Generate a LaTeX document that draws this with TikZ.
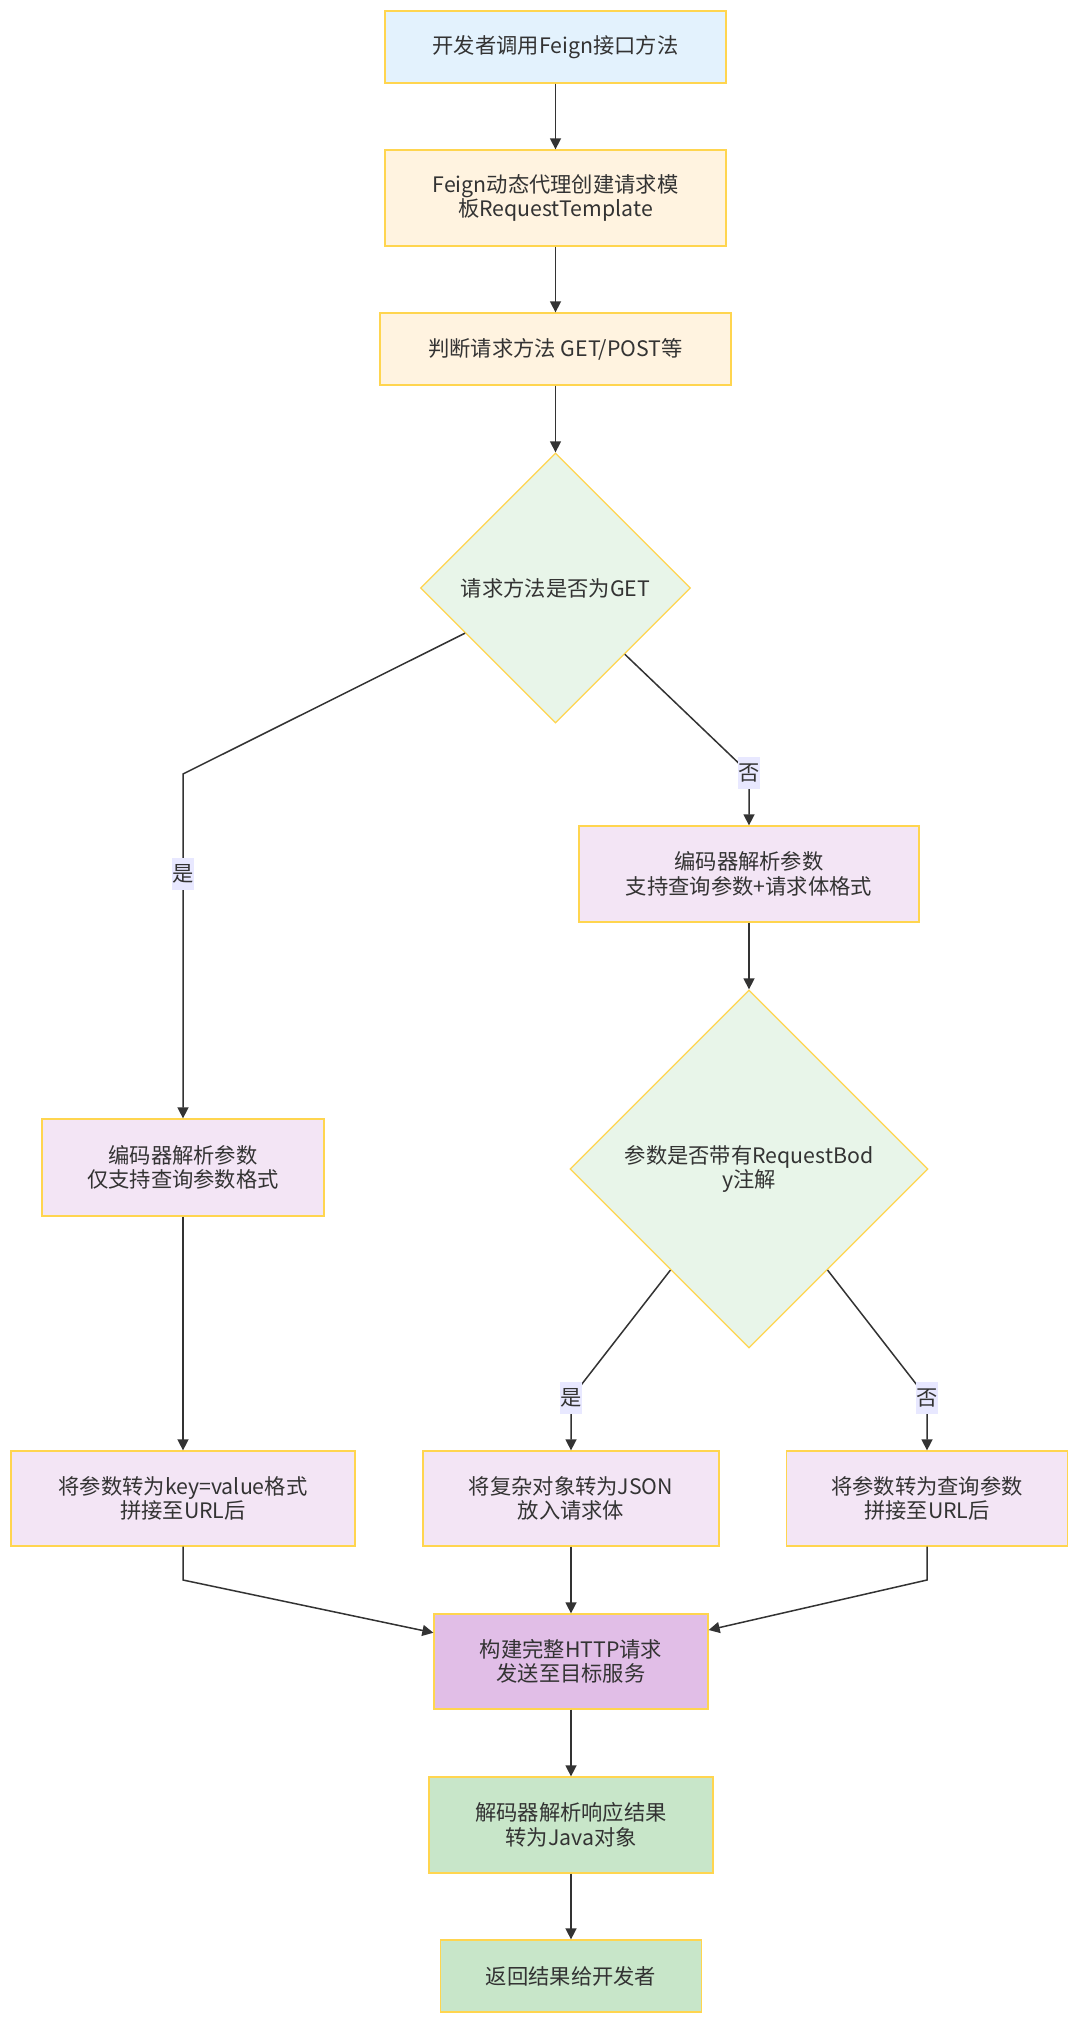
\documentclass[tikz,border=0pt]{standalone}
\usepackage{fontspec}
\setmainfont{Noto Sans CJK SC}
\usetikzlibrary{shapes.geometric,arrows.meta}
\definecolor{bd}{HTML}{FFD54F}
\definecolor{txt}{HTML}{333333}
\definecolor{ln}{HTML}{333333}
\definecolor{fblue}{HTML}{E3F2FD}
\definecolor{forange}{HTML}{FFF3E0}
\definecolor{fgreenl}{HTML}{E8F5E9}
\definecolor{fpurple}{HTML}{F3E5F5}
\definecolor{fpurpled}{HTML}{E1BEE7}
\definecolor{fgreen}{HTML}{C8E6C9}
\definecolor{lb}{HTML}{E8E8FF}
\newcommand{\fs}{\fontsize{21.3}{24.5}\selectfont}
\begin{document}
\begin{tikzpicture}[x=1pt,y=-1pt,
  box/.style={draw=bd, line width=1.3pt, inner sep=0pt, align=center, text=txt, font=\fs},
  dia/.style={diamond, aspect=1, draw=bd, fill=fgreenl, line width=1.3pt, inner sep=0pt, align=center, text=txt, font=\fs},
  lbl/.style={fill=lb, inner sep=0pt, minimum width=20pt, minimum height=32pt, text=txt, font=\fs},
  arr/.style={draw=ln, line width=1.5pt, -{Triangle[length=11pt,width=11pt]}}]
\fill[white] (0,0) rectangle (1080,2023);
\useasboundingbox (0,0) rectangle (1080,2023);

\node[box, fill=fblue, minimum width=341pt, minimum height=72pt] (n1) at (555.5,47) {开发者调用Feign接口方法};
\node[box, fill=forange, minimum width=341pt, minimum height=96pt] (n2) at (555.5,198) {Feign动态代理创建请求模\\板RequestTemplate};
\node[box, fill=forange, minimum width=351pt, minimum height=72pt] (n3) at (555.5,349) {判断请求方法 GET/POST等};
\node[dia, minimum width=270pt, minimum height=270pt] (d1) at (555.5,588) {请求方法是否为GET};
\node[box, fill=fpurple, minimum width=282pt, minimum height=97pt] (encL) at (183,1167.5) {编码器解析参数\\仅支持查询参数格式};
\node[box, fill=fpurple, minimum width=340pt, minimum height=96pt] (encR) at (749,874) {编码器解析参数\\支持查询参数+请求体格式};
\node[dia, minimum width=358pt, minimum height=358pt] (d2) at (749,1169) {参数是否带有RequestBod\\y注解};
\node[box, fill=fpurple, minimum width=344pt, minimum height=95pt] (bL) at (183,1498.5) {将参数转为key=value格式\\拼接至URL后};
\node[box, fill=fpurple, minimum width=296pt, minimum height=95pt] (bM) at (571,1498.5) {将复杂对象转为JSON\\放入请求体};
\node[box, fill=fpurple, minimum width=281.5pt, minimum height=95pt] (bR) at (927,1498.5) {将参数转为查询参数\\拼接至URL后};
\node[box, fill=fpurpled, minimum width=274pt, minimum height=95pt] (http) at (571,1661.5) {构建完整HTTP请求\\发送至目标服务};
\node[box, fill=fgreen, minimum width=284pt, minimum height=96pt] (dec) at (571,1825) {解码器解析响应结果\\转为Java对象};
\node[box, fill=fgreen, minimum width=261pt, minimum height=72pt] (ret) at (571,1976) {返回结果给开发者};

\coordinate (c1) at (183,774);
\coordinate (c2) at (749,773);
\coordinate (c3) at (571,1398);
\coordinate (c4) at (927,1398);
\coordinate (c5) at (183,1580);
\coordinate (c6) at (927,1580);

\draw[arr] (n1) -- (n2);
\draw[arr] (n2) -- (n3);
\draw[arr] (n3) -- (d1);
\draw[arr] (d1) -- (c1) -- (encL.north);
\draw[arr] (d1) -- (c2) -- (encR.north);
\draw[arr] (encR) -- (d2);
\draw[arr] (d2) -- (c3) -- (bM.north);
\draw[arr] (d2) -- (c4) -- (bR.north);
\draw[arr] (encL) -- (bL);
\draw[arr] (bL.south) -- (c5) -- (http);
\draw[arr] (bM) -- (http);
\draw[arr] (bR.south) -- (c6) -- (http);
\draw[arr] (http) -- (dec);
\draw[arr] (dec) -- (ret);

\node[lbl] (l1) at (183,874) {是};
\node[lbl] (l2) at (c2) {否};
\node[lbl] (l3) at (c3) {是};
\node[lbl] (l4) at (c4) {否};
\end{tikzpicture}
\end{document}
